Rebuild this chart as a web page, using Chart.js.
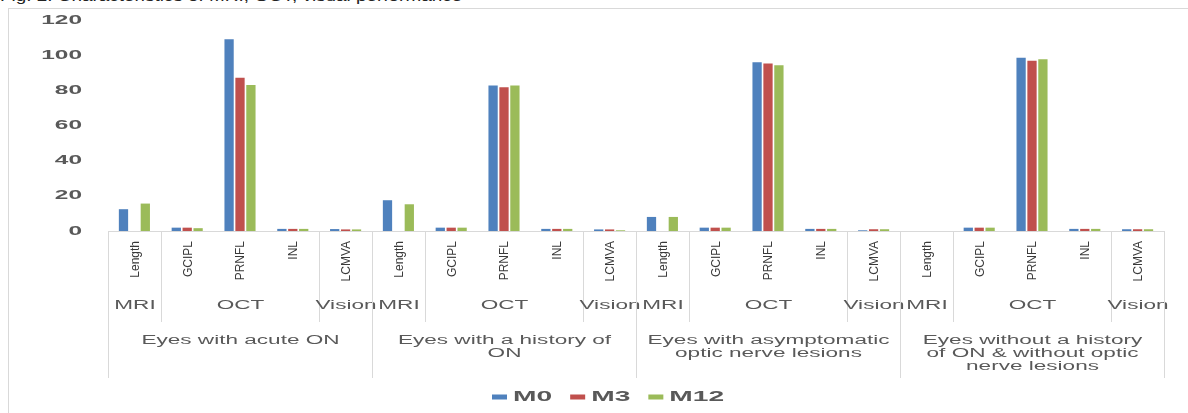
<!DOCTYPE html>
<html>
<head>
<meta charset="utf-8">
<script src="https://cdn.jsdelivr.net/npm/chart.js@4"></script>
<style>
  html, body { margin: 0; padding: 0; background: #fff; }
  body { width: 1188px; height: 413px; position: relative; overflow: hidden; font-family: 'Liberation Sans', Arial, sans-serif; }
  #title { position: absolute; left: 0; top: -12px; font-size: 14px; line-height: 16px; color: #222; white-space: nowrap; transform: scaleX(1.35); transform-origin: left top; }
  #frame { position: absolute; left: 8px; top: 8px; width: 1200px; height: 420px; border-left: 1px solid #d9d9d9; border-top: 1px solid #d9d9d9; }
  #wrap { position: absolute; left: 0; top: 0; width: 1188px; height: 413px; }
</style>
</head>
<body>
<div id="title">Fig. 2. Characteristics of MRI, OCT, visual performance</div>
<div id="frame"></div>
<div id="wrap"><canvas id="chart"></canvas></div>
<script>
// category levels (Excel style multi-level axis)
const measures = ['Length', 'GCIPL', 'PRNFL', 'INL', 'LCMVA'];
const methods = [['MRI', 1], ['OCT', 3], ['Vision', 1]];
const groups = [
  ['Eyes with acute ON'],
  ['Eyes with a history of', 'ON'],
  ['Eyes with asymptomatic', 'optic nerve lesions'],
  ['Eyes without a history', 'of ON & without optic', 'nerve lesions']
];
const labels = groups.flatMap(() => measures);

// values (null = no bar)
const m0  = [12.4, 1.9, 109, 1.2, 1.1,  17.5, 1.9, 82.7, 1.2, 0.9,  8, 1.9, 96, 1.2, 0.4,  null, 1.9, 98.5, 1.2, 1];
const m3  = [null, 1.9, 87.2, 1.2, 0.9,  null, 1.9, 81.7, 1.2, 0.9,  null, 1.9, 95.2, 1.2, 1,  null, 1.9, 96.8, 1.2, 1];
const m12 = [15.6, 1.6, 83, 1.2, 0.9,  15.2, 1.9, 82.7, 1.2, 0.4,  8, 1.9, 94.3, 1.2, 1,  null, 1.9, 97.7, 1.2, 1];

const seriesNames = ['M0', 'M3', 'M12'];
const seriesColors = ['#4f81bd', '#c0504d', '#9bbb59'];

const textGray = '#595959';
const lineGray = '#d9d9d9';
const STRETCH = 1.88;

// horizontally stretched text, like the scanned figure
function wideText(ctx, str, x, y, align, font) {
  ctx.save();
  ctx.font = font;
  ctx.textAlign = align;
  ctx.textBaseline = 'middle';
  ctx.translate(x, y);
  ctx.scale(STRETCH, 1);
  ctx.fillText(str, 0, 0);
  ctx.restore();
}

const axisLabels = {
  id: 'axisLabels',
  afterDraw(chart) {
    const ctx = chart.ctx;
    const xs = chart.scales.x;
    const ys = chart.scales.y;
    const bottom = chart.chartArea.bottom;
    const half = (xs.getPixelForValue(1) - xs.getPixelForValue(0)) / 2;
    const edge = i => Math.round(xs.getPixelForValue(i) - half) + 0.5;

    ctx.save();
    ctx.fillStyle = textGray;

    // y tick labels
    ys.ticks.forEach(t => {
      wideText(ctx, String(t.value), 82, ys.getPixelForValue(t.value), 'right', 'bold 13px "Liberation Sans", Arial');
    });

    // level 1: rotated measure names
    ctx.fillStyle = '#3a3a3a';
    labels.forEach((lab, i) => {
      ctx.save();
      ctx.font = '12px "Liberation Sans", Arial';
      ctx.textAlign = 'right';
      ctx.textBaseline = 'middle';
      ctx.translate(xs.getPixelForValue(i) + 1, bottom + 10);
      ctx.rotate(-Math.PI / 2);
      ctx.fillText(lab, 0, 0);
      ctx.restore();
    });

    // separators + level 2 / level 3 labels
    ctx.strokeStyle = lineGray;
    ctx.lineWidth = 1;
    ctx.fillStyle = textGray;
    groups.forEach((g, gi) => {
      const start = gi * measures.length;
      let k = start;
      methods.forEach(([name, span], mi) => {
        if (mi > 0) {
          ctx.beginPath();
          ctx.moveTo(edge(k), bottom);
          ctx.lineTo(edge(k), bottom + 91);
          ctx.stroke();
        }
        const cx = (edge(k) + edge(k + span)) / 2;
        wideText(ctx, name, cx, bottom + 75, 'center', '12px "Liberation Sans", Arial');
        k += span;
      });
      const gx = (edge(start) + edge(start + measures.length)) / 2;
      g.forEach((line, li) => {
        wideText(ctx, line, gx, bottom + 110 + li * 13, 'center', '12px "Liberation Sans", Arial');
      });
    });
    for (let gi = 0; gi <= groups.length; gi++) {
      const x = edge(gi * measures.length);
      ctx.beginPath();
      ctx.moveTo(x, bottom);
      ctx.lineTo(x, bottom + 147);
      ctx.stroke();
    }

    // legend
    let lx = 492;
    const ly = 397;
    chart.data.datasets.forEach(ds => {
      ctx.fillStyle = ds.backgroundColor;
      ctx.fillRect(lx, ly - 2.5, 15, 5);
      ctx.fillStyle = textGray;
      wideText(ctx, ds.label, lx + 21, ly, 'left', 'bold 15px "Liberation Sans", Arial');
      ctx.font = 'bold 15px "Liberation Sans", Arial';
      lx += 21 + ctx.measureText(ds.label).width * STRETCH + 18;
    });
    ctx.restore();
  }
};

new Chart(document.getElementById('chart'), {
  type: 'bar',
  data: {
    labels: labels,
    datasets: [m0, m3, m12].map((d, i) => ({
      label: seriesNames[i],
      data: d,
      backgroundColor: seriesColors[i],
      categoryPercentage: 0.62,
      barPercentage: 0.85
    }))
  },
  options: {
    responsive: true,
    maintainAspectRatio: false,
    animation: false,
    layout: { padding: { top: 20, right: 24, left: 0, bottom: 0 } },
    plugins: {
      legend: { display: false },
      tooltip: { enabled: false }
    },
    scales: {
      x: {
        grid: { display: false },
        border: { display: true, color: lineGray },
        ticks: { display: false },
        afterFit: scale => { scale.height = 182; }
      },
      y: {
        min: 0,
        max: 120,
        ticks: { display: false, stepSize: 20 },
        grid: { display: false },
        border: { display: false },
        afterFit: scale => { scale.width = 108; }
      }
    }
  },
  plugins: [axisLabels]
});
</script>
</body>
</html>
